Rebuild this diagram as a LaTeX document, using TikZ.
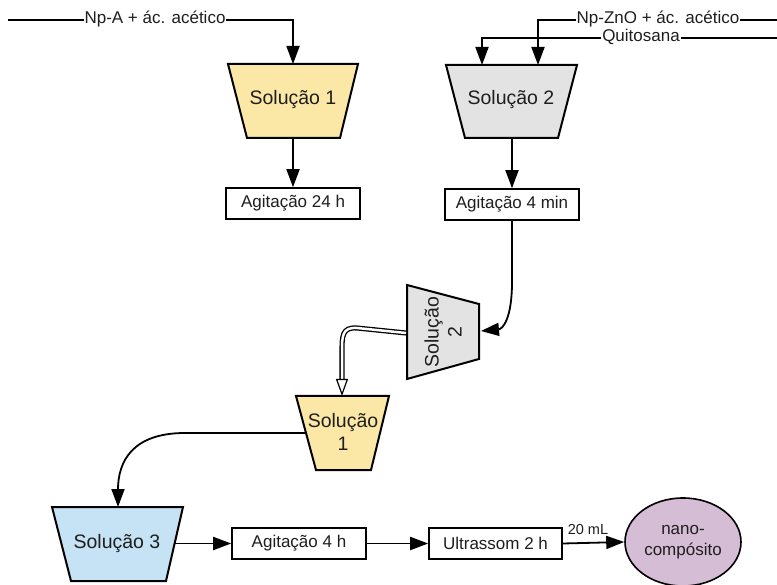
\documentclass[tikz,border=0pt]{standalone}
\usepackage{fontspec}
\setmainfont{Liberation Sans}
\usetikzlibrary{arrows.meta,shapes.geometric}
\definecolor{cyel}{RGB}{252,232,166}
\definecolor{cgray}{RGB}{227,227,227}
\definecolor{cblue}{RGB}{197,227,244}
\definecolor{cpurp}{RGB}{213,189,213}
\definecolor{ctext}{RGB}{30,30,30}
\begin{document}
\begin{tikzpicture}[x=1pt,y=-1pt,line width=1.8pt,
  arr/.style={-{Triangle[length=18pt,width=13pt]}},
  openarr/.style={line width=1.2pt,-{Triangle[open,length=17pt,width=12pt]}},
  box/.style={draw,line width=1.6pt,fill=white,minimum width=134pt,minimum height=31pt,inner sep=0pt,
    text=ctext,font=\fontsize{17}{20}\selectfont},
  lbl/.style={fill=white,inner sep=1pt,text=ctext,font=\fontsize{17}{20}\selectfont},
  small/.style={inner sep=1pt,text=ctext,font=\fontsize{14.5}{17}\selectfont},
  trap/.style={draw,line width=2pt,line join=miter},
  traptext/.style={inner sep=0pt,align=center,text=ctext,font=\fontsize{19.5}{23}\selectfont}]
\useasboundingbox (0,0) rectangle (777,585);

% trapezoids
\filldraw[trap,fill=cyel] (228,64) -- (358,64) -- (340,138) -- (247,138) -- cycle;
\node[traptext] (s1) at (293,100) {Solução 1};
\coordinate (s1top) at (293,64); \coordinate (s1bot) at (293,138);

\filldraw[trap,fill=cgray] (446,65) -- (577,65) -- (558,138) -- (465,138) -- cycle;
\node[traptext] (s2) at (511,100) {Solução 2};
\coordinate (s2topA) at (482,65); \coordinate (s2topB) at (538,65); \coordinate (s2bot) at (512,138);

\filldraw[trap,fill=cgray] (407,285) -- (479,304) -- (479,359) -- (407,379) -- cycle;
\node[traptext,rotate=90] (s2r) at (443,332) {Solução\\2};
\coordinate (s2rR) at (481,331); \coordinate (s2rL) at (406,333);

\filldraw[trap,fill=cyel] (296,396) -- (389,396) -- (371,470) -- (316,470) -- cycle;
\node[traptext] (s1b) at (343,432) {Solução\\1};
\coordinate (s1btop) at (342,396); \coordinate (s1bL) at (306,433);

\filldraw[trap,fill=cblue] (52,507) -- (183,507) -- (166,581) -- (71,581) -- cycle;
\node[traptext] (s3) at (117,543) {Solução 3};
\coordinate (s3top) at (118,507); \coordinate (s3R) at (175,543.5);

% boxes
\node[box] (a24) at (293,203.5) {Agitação 24 h};
\node[box] (a4m) at (512,204.5) {Agitação 4 min};
\node[box] (a4h) at (299,543.5) {Agitação 4 h};
\node[box,minimum width=133pt] (ult) at (495.5,543.5) {Ultrassom 2 h};
\node[draw,line width=1.6pt,ellipse,fill=cpurp,minimum width=116pt,minimum height=88pt,inner sep=0pt,
  align=center,text=ctext,font=\fontsize{17}{21}\selectfont] (nc) at (683,542) {nano-\\compósito};

% inputs
\coordinate (inA) at (8,20);
\coordinate (inB) at (777,20);
\coordinate (inC) at (777,38);
\draw[arr] (inA) -- (293,20) -- (s1top);
\draw[arr] (inB) -- (538,20) -- (s2topB);
\draw[arr] (inC) -- (482,38) -- (s2topA);
\node[lbl] (lA) at (155,19) {Np-A + ác. acético};
\node[lbl] (lB) at (658,19) {Np-ZnO + ác. acético};
\node[lbl] (lC) at (641,37) {Quitosana};

% flow
\draw[arr] (s1bot) -- (a24.north);
\draw[arr] (s2bot) -- (a4m.north);
\draw[arr] (a4m.south) -- (512,282) .. controls (512,318) and (503,329) .. (s2rR);
\draw[line width=1.3pt,double=white,double distance=2.5pt]
  (s2rL) -- (357,328) .. controls (342,327) and (342,336) .. (342,352) -- (342,380);
\draw[openarr] (342,379) -- (s1btop);
\draw[arr] (s1bL) -- (185,433) .. controls (132,433) and (118,462) .. (s3top);
\draw[arr] (s3R) -- (a4h.west);
\draw[arr] (a4h.east) -- (ult.west);
\draw[arr] (ult.east) -- (nc.west);
\node[small] (ml) at (588,530) {20 mL};
\end{tikzpicture}
\end{document}
